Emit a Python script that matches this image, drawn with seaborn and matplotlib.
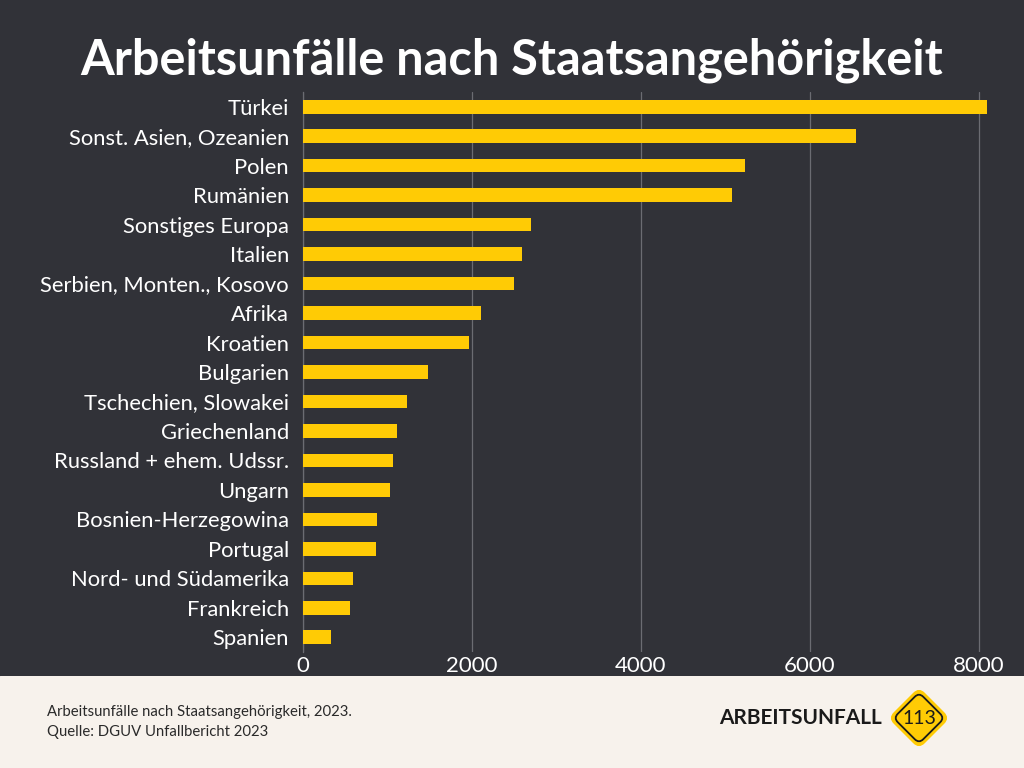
import pandas as pd
import seaborn as sns
import matplotlib.pyplot as plt
from matplotlib.patches import FancyBboxPatch
from matplotlib.transforms import Affine2D

# ---------- DATA ----------

countries = [
    "Türkei", "Sonst. Asien, Ozeanien", "Polen", "Rumänien",
    "Sonstiges Europa", "Italien", "Serbien, Monten., Kosovo", "Afrika",
    "Kroatien", "Bulgarien", "Tschechien, Slowakei", "Griechenland",
    "Russland + ehem. Udssr.", "Ungarn", "Bosnien-Herzegowina", "Portugal",
    "Nord- und Südamerika", "Frankreich", "Spanien",
]
accidents = [
    8090, 6550, 5230, 5080,
    2700, 2590, 2500, 2110,
    1960, 1480, 1230, 1110,
    1065, 1030, 875, 860,
    590, 555, 330,
]
x_ticks = [0, 2000, 4000, 6000, 8000]

title = "Arbeitsunfälle nach Staatsangehörigkeit"
note = "Arbeitsunfälle nach Staatsangehörigkeit, 2023.\nQuelle: DGUV Unfallbericht 2023"

df = pd.DataFrame({"Land": countries, "Unfälle": accidents})

# ---------- STYLE ----------

bg = "#313238"
yellow = "#FFCB05"
footer_bg = "#F7F2EC"
grid = "#6B6C72"
ink = "#1a1a1a"

sns.set_theme(style="dark")
plt.rcParams["font.family"] = ["Lato", "DejaVu Sans"]

fig = plt.figure(figsize=(10.24, 7.68), dpi=100, facecolor=bg)

# ---------- MAIN CHART ----------

ax = fig.add_axes([303 / 1024, 1 - 652 / 768, (1017 - 303) / 1024, (652 - 92) / 768])
ax.set_facecolor(bg)

sns.barplot(
    data=df,
    x="Unfälle",
    y="Land",
    orient="h",
    color=yellow,
    saturation=1,
    width=0.46,
    edgecolor=yellow,
    linewidth=0,
    ax=ax,
    zorder=3
)

ax.set_xlim(0, 8450)
ax.set_xticks(x_ticks)
ax.set_xticklabels([str(t) for t in x_ticks])
ax.set_xlabel("")
ax.set_ylabel("")

ax.tick_params(axis="x", colors="white", labelsize=16, length=0, pad=3)
ax.tick_params(axis="y", colors="white", labelsize=15.8, length=0, pad=10)

ax.grid(axis="x", color=grid, linewidth=0.9, zorder=0)
ax.grid(axis="y", visible=False)
for side in ["top", "right", "bottom"]:
    ax.spines[side].set_visible(False)
ax.spines["left"].set_color(grid)
ax.spines["left"].set_linewidth(0.9)

fig.text(0.5, 1 - 60 / 768, title, ha="center", va="center",
         color="white", fontsize=35, fontweight="bold")

# ---------- FOOTER ----------

footer = fig.add_axes([0, 0, 1, 92 / 768])
footer.set_xlim(0, 1024)
footer.set_ylim(0, 92)
footer.axis("off")
footer.add_patch(plt.Rectangle((0, 0), 1024, 92, color=footer_bg, zorder=0))

footer.text(47, 46, note, ha="left", va="center", color="#2a2a2a",
            fontsize=10.7, linespacing=1.6)

footer.text(882, 50, "ARBEITSUNFALL", ha="right", va="center",
            color=ink, fontsize=15, fontweight="bold")

# rounded diamond logo
cx, cy = 919, 50
rot = Affine2D().rotate_deg_around(cx, cy, 45) + footer.transData
for side, face, edge, rnd in [(42, yellow, yellow, 7), (36, "none", ink, 6)]:
    box = FancyBboxPatch(
        (cx - side / 2, cy - side / 2), side, side,
        boxstyle=f"round,pad=0,rounding_size={rnd}",
        facecolor=face, edgecolor=edge, linewidth=1.3,
        transform=rot, zorder=2
    )
    footer.add_patch(box)
footer.text(cx, cy, "113", ha="center", va="center",
            color=ink, fontsize=14, zorder=3)

fig.savefig("out.png", dpi=100, facecolor=bg)
